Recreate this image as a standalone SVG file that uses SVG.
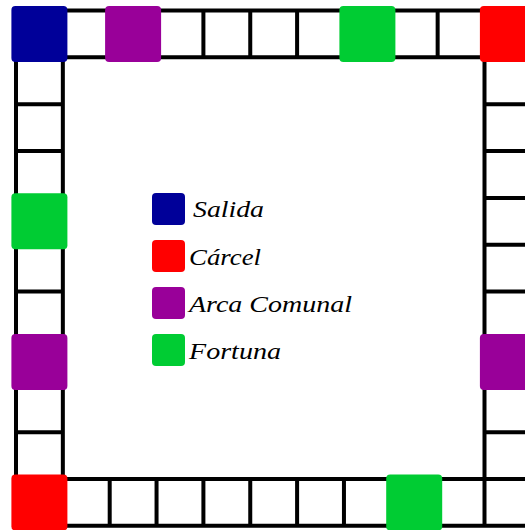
<svg xmlns="http://www.w3.org/2000/svg" width="525" height="530" viewBox="0 0 525 530">
<style>
.grid{fill:none;stroke:#000;stroke-width:4;stroke-linecap:square}
.cell{stroke:none}
.salida{fill:#000099}.carcel{fill:#ff0000}.arca{fill:#990099}.fortuna{fill:#00cc33}
text{font-family:'Liberation Serif','DejaVu Serif',serif;font-style:italic;font-size:23px;fill:#000}
</style>
<rect width="525" height="530" fill="#fff"/>
<g id="connectors">
<path class="grid" d="M16 10.5H531.35V525.85H16Z M62.85 57.35H484.5V479H62.85Z
M62.85 10.5V57.35 M109.7 10.5V57.35 M156.55 10.5V57.35 M203.4 10.5V57.35 M250.25 10.5V57.35 M297.1 10.5V57.35 M343.95 10.5V57.35 M390.8 10.5V57.35 M437.65 10.5V57.35 M484.5 10.5V57.35
M62.85 479V525.85 M109.7 479V525.85 M156.55 479V525.85 M203.4 479V525.85 M250.25 479V525.85 M297.1 479V525.85 M343.95 479V525.85 M390.8 479V525.85 M437.65 479V525.85 M484.5 479V525.85
M16 57.35H62.85 M16 104.2H62.85 M16 151.05H62.85 M16 197.9H62.85 M16 244.75H62.85 M16 291.6H62.85 M16 338.45H62.85 M16 385.3H62.85 M16 432.15H62.85 M16 479H62.85
M484.5 57.35H531.35 M484.5 104.2H531.35 M484.5 151.05H531.35 M484.5 197.9H531.35 M484.5 244.75H531.35 M484.5 291.6H531.35 M484.5 338.45H531.35 M484.5 385.3H531.35 M484.5 432.15H531.35 M484.5 479H531.35"/>
</g>
<g id="salida-start"><rect class="cell salida" x="11.4" y="5.9" width="56" height="56" rx="4"/></g>
<g id="arca-top"><rect class="cell arca" x="105.1" y="5.9" width="56" height="56" rx="4"/></g>
<g id="fortuna-top"><rect class="cell fortuna" x="339.4" y="5.9" width="56" height="56" rx="4"/></g>
<g id="carcel-top"><rect class="cell carcel" x="479.9" y="5.9" width="56" height="56" rx="4"/></g>
<g id="fortuna-left"><rect class="cell fortuna" x="11.4" y="193.3" width="56" height="56" rx="4"/></g>
<g id="arca-left"><rect class="cell arca" x="11.4" y="333.9" width="56" height="56" rx="4"/></g>
<g id="carcel-bottom"><rect class="cell carcel" x="11.4" y="474.4" width="56" height="56" rx="4"/></g>
<g id="arca-right"><rect class="cell arca" x="479.9" y="333.9" width="56" height="56" rx="4"/></g>
<g id="fortuna-bottom"><rect class="cell fortuna" x="386.2" y="474.4" width="56" height="56" rx="4"/></g>
<g id="legend">
<g id="legend-salida"><rect class="salida" x="152" y="193" width="33" height="32" rx="4"/><text x="193" y="217" textLength="71" lengthAdjust="spacingAndGlyphs">Salida</text></g>
<g id="legend-carcel"><rect class="carcel" x="152" y="240" width="33" height="32" rx="4"/><text x="189" y="265" textLength="72" lengthAdjust="spacingAndGlyphs">Cárcel</text></g>
<g id="legend-arca"><rect class="arca" x="152" y="287" width="33" height="32" rx="4"/><text x="189" y="312" textLength="163" lengthAdjust="spacingAndGlyphs">Arca Comunal</text></g>
<g id="legend-fortuna"><rect class="fortuna" x="152" y="334" width="33" height="32" rx="4"/><text x="189" y="359" textLength="92" lengthAdjust="spacingAndGlyphs">Fortuna</text></g>
</g>
</svg>
